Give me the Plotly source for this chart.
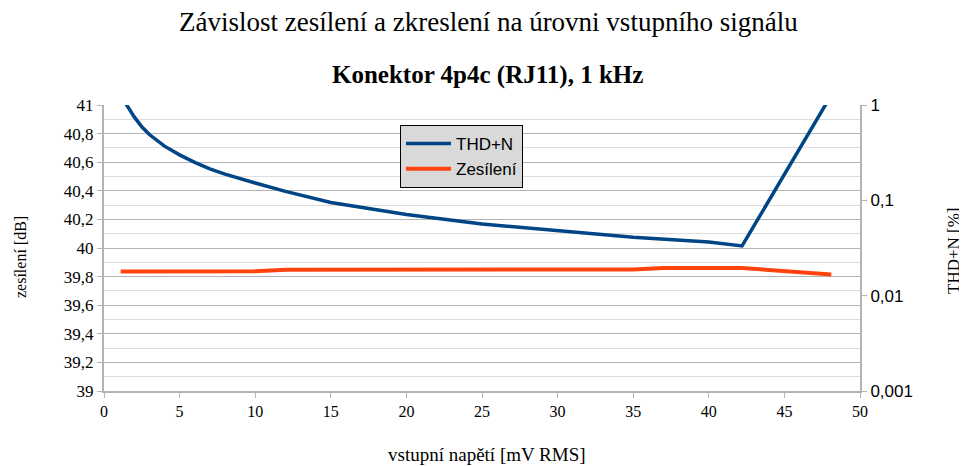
import plotly.graph_objects as go

# Data
thd_x = [1.1, 1.5, 2, 2.5, 3, 3.5, 4, 5, 6, 7, 8, 10, 12, 15, 20, 25, 30, 35, 40, 42.2, 48.1]
thd_y = [1.40, 1.0, 0.75, 0.59, 0.49, 0.425, 0.37, 0.30, 0.25, 0.214, 0.188, 0.152, 0.124, 0.095, 0.071, 0.0565, 0.048, 0.041, 0.0365, 0.0332, 1.27]

gain_x = [1.1, 2, 3, 4, 5, 7, 10, 12, 15, 20, 25, 30, 35, 37, 40, 42.2, 48.1]
gain_y = [39.835, 39.835, 39.835, 39.835, 39.835, 39.835, 39.837, 39.848, 39.848, 39.848, 39.848, 39.848, 39.85, 39.86, 39.86, 39.86, 39.815]

left_tickvals = [39, 39.2, 39.4, 39.6, 39.8, 40, 40.2, 40.4, 40.6, 40.8, 41]
left_ticktext = ["39", "39,2", "39,4", "39,6", "39,8", "40", "40,2", "40,4", "40,6", "40,8", "41"]
right_tickvals = [0.001, 0.01, 0.1, 1]
right_ticktext = ["0,001", "0,01", "0,1", "1"]
x_ticks = [0, 5, 10, 15, 20, 25, 30, 35, 40, 45, 50]

title_text = "Závislost zesílení a zkreslení na úrovni vstupního signálu"
subtitle_text = "<b>Konektor 4p4c (RJ11), 1 kHz</b>"
x_title = "vstupní napětí [mV RMS]"
y_title = "zesílení [dB]"
y2_title = "THD+N [%]"

SERIF = "Liberation Serif"
SANS = "Liberation Sans"

OFF = 8  # page body margin offset
W, H = 967 - OFF, 466 - OFF
L, T = 104 - OFF, 105 - OFF
R = W - (860 - OFF)
B = H - (391 - OFF)
plot_w = W - L - R
plot_h = H - T - B

def px_x(p):
    return (p - OFF - L) / plot_w

def px_y(p):
    return (H - B - (p - OFF)) / plot_h

fig = go.Figure()
fig.add_trace(go.Scatter(x=thd_x, y=thd_y, mode="lines", name="THD+N",
                         line=dict(color="#004586", width=3.5), yaxis="y2"))
fig.add_trace(go.Scatter(x=gain_x, y=gain_y, mode="lines", name="Zesílení",
                         line=dict(color="#ff420e", width=4), yaxis="y"))

fig.update_layout(
    width=W, height=H,
    margin=dict(l=L, r=R, t=T, b=B, autoexpand=False),
    paper_bgcolor="white", plot_bgcolor="white",
    showlegend=True,
    legend=dict(x=px_x(400), y=px_y(125), xanchor="left", yanchor="top",
                bgcolor="#d9d9d9", bordercolor="#000000", borderwidth=1,
                font=dict(family=SANS, size=17, color="#000000"),
                traceorder="normal", tracegroupgap=2, itemwidth=45),
    xaxis=dict(range=[0, 50], tickvals=x_ticks, showgrid=False, zeroline=False, automargin=False,
               showline=True, linecolor="#b3b3b3", linewidth=2,
               ticks="outside", ticklen=5, tickcolor="#b3b3b3",
               tickfont=dict(family=SERIF, size=16, color="#000000")),
    yaxis=dict(range=[39, 41], tickvals=left_tickvals, ticktext=left_ticktext,
               showgrid=True, gridcolor="#b3b3b3", gridwidth=1, automargin=False,
               minor=dict(dtick=0.1, showgrid=True, gridcolor="#dddddd", gridwidth=1, ticks=""),
               zeroline=False, showline=True, linecolor="#b3b3b3", linewidth=2,
               ticks="outside", ticklen=5, tickcolor="#b3b3b3",
               tickfont=dict(family=SERIF, size=17, color="#000000")),
    yaxis2=dict(type="log", range=[-3, 0], overlaying="y", side="right", automargin=False,
                tickvals=right_tickvals, ticktext=right_ticktext, showgrid=False, zeroline=False,
                showline=True, linecolor="#b3b3b3", linewidth=2,
                ticks="outside", ticklen=5, tickcolor="#b3b3b3",
                tickfont=dict(family=SANS, size=17, color="#000000")),
    annotations=[
        dict(text=title_text, x=px_x(488), y=px_y(22), xref="paper", yref="paper", showarrow=False,
             yanchor="middle", font=dict(family=SERIF, size=27, color="#000000")),
        dict(text=subtitle_text, x=px_x(487), y=px_y(75), xref="paper", yref="paper", showarrow=False,
             yanchor="middle", font=dict(family=SERIF, size=25, color="#000000")),
        dict(text=x_title, x=px_x(487), y=px_y(454), xref="paper", yref="paper", showarrow=False,
             yanchor="middle", font=dict(family=SERIF, size=19, color="#000000")),
        dict(text=y_title, x=px_x(20), y=px_y(257), xref="paper", yref="paper", showarrow=False,
             textangle=-90, xanchor="center", yanchor="middle",
             font=dict(family=SERIF, size=16, color="#000000")),
        dict(text=y2_title, x=px_x(954), y=px_y(251), xref="paper", yref="paper", showarrow=False,
             textangle=-90, xanchor="center", yanchor="middle",
             font=dict(family=SERIF, size=17, color="#000000")),
    ],
)

fig.write_html("out.html")
